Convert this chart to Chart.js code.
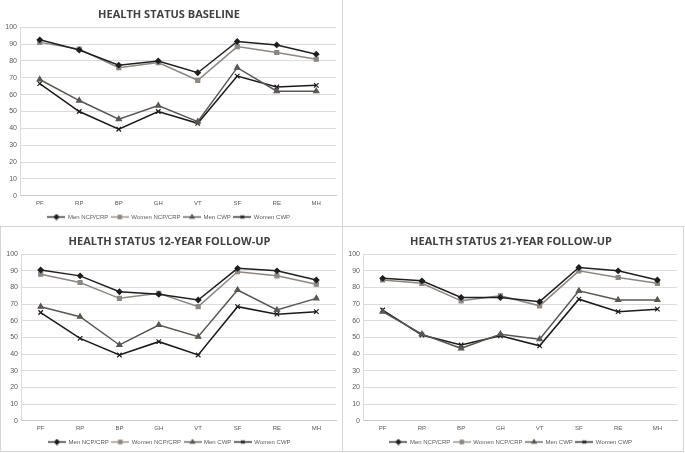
<!DOCTYPE html>
<html>
<head>
<meta charset="utf-8">
<script src="https://cdn.jsdelivr.net/npm/chart.js@4"></script>
<style>
  body { margin: 0; background: #fff; width: 685px; height: 453px; overflow: hidden; position: relative; }
  .box { position: absolute; box-sizing: border-box; border: 1px solid #d4d4d4; background: #fff; }
  canvas { display: block; }
</style>
</head>
<body>
<div class="box" style="left:-1px;top:-1px;width:344px;height:228px"><canvas id="baseChart" width="342" height="226"></canvas></div>
<div class="box" style="left:0;top:226px;width:343px;height:226px"><canvas id="year12Chart" width="341" height="224"></canvas></div>
<div class="box" style="left:342px;top:226px;width:342px;height:226px"><canvas id="year21Chart" width="340" height="224"></canvas></div>

<script>
  const categories = ['PF', 'RP', 'BP', 'GH', 'VT', 'SF', 'RE', 'MH'];
  const seriesNames = ['Men NCP/CRP', 'Women NCP/CRP', 'Men CWP', 'Women CWP'];

  // baseline
  const baseMenNcp   = [92.5, 86.5, 77.5, 80, 73, 91.5, 89.5, 84];
  const baseWomenNcp = [91, 87, 76, 79, 68.5, 88.5, 85, 81];
  const baseMenCwp   = [69, 56.5, 45.5, 53.5, 44, 76, 62, 62];
  const baseWomenCwp = [66.5, 50, 39.5, 50, 43, 71, 64.5, 65.5];

  // 12-year follow-up
  const y12MenNcp   = [90.5, 87, 77.5, 76, 72.5, 91.5, 90, 84.5];
  const y12WomenNcp = [88, 83, 73.5, 76.5, 68.5, 89.5, 87, 82];
  const y12MenCwp   = [68.5, 62.5, 45.5, 57.5, 50.5, 78.5, 66.5, 73.5];
  const y12WomenCwp = [65, 49.5, 39.5, 47.5, 39.5, 68.5, 64, 65.5];

  // 21-year follow-up
  const y21MenNcp   = [85.5, 84, 74, 74, 71.5, 92, 90, 84.5];
  const y21WomenNcp = [84.5, 82.5, 72, 75, 69, 90, 86, 82.5];
  const y21MenCwp   = [65.5, 52, 43.5, 52, 49, 78, 72.5, 72.5];
  const y21WomenCwp = [66.5, 51.5, 45.5, 51, 45, 73, 65.5, 67];

  const colors = ['#1f1f1f', '#8c8782', '#5a5652', '#1a1a1a'];
  const markers = ['rectRot', 'rect', 'triangle', 'crossRot'];
  const radii = [2.6, 2.8, 3, 3.2];

  // little line+marker images for the legend
  function legendIcon(i) {
    const c = document.createElement('canvas');
    c.width = 18; c.height = 7;
    const ctx = c.getContext('2d');
    ctx.strokeStyle = colors[i];
    ctx.fillStyle = colors[i];
    ctx.lineWidth = 1.3;
    ctx.beginPath(); ctx.moveTo(0, 3.5); ctx.lineTo(18, 3.5); ctx.stroke();
    Chart.helpers.drawPoint(ctx, { pointStyle: markers[i], radius: 2.3, borderWidth: 1.1 }, 9, 3.5);
    return c;
  }

  function makeChart(id, title, rows) {
    const datasets = rows.map((vals, i) => ({
      label: seriesNames[i],
      data: vals,
      borderColor: colors[i],
      backgroundColor: colors[i],
      borderWidth: 1.5,
      pointStyle: markers[i],
      pointRadius: radii[i],
      pointBorderWidth: 1.2,
      tension: 0
    }));
    return new Chart(document.getElementById(id), {
      type: 'line',
      data: { labels: categories, datasets: datasets },
      options: {
        responsive: false,
        animation: false,
        layout: { padding: { left: 2, right: 6, bottom: -4 } },
        plugins: {
          title: {
            display: true,
            text: title,
            color: '#404040',
            font: { family: 'Open Sans', size: 11, weight: 'bold' },
            padding: { top: 8, bottom: 6 }
          },
          legend: {
            position: 'bottom',
            labels: {
              usePointStyle: true,
              pointStyleWidth: 17,
              generateLabels: chart => chart.data.datasets.map((ds, i) => ({
                text: ds.label,
                pointStyle: legendIcon(i),
                fontColor: '#595959',
                datasetIndex: i,
                lineWidth: 0
              })),
              font: { family: 'Liberation Sans', size: 6 },
              color: '#595959',
              padding: 3,
              boxHeight: 6
            }
          },
          tooltip: { enabled: false }
        },
        scales: {
          x: {
            offset: true,
            grid: { display: false, drawTicks: false },
            border: { color: '#c8c8c8' },
            ticks: { color: '#595959', font: { family: 'Liberation Sans', size: 6 }, padding: 4 }
          },
          y: {
            min: 0,
            max: 100,
            afterFit: s => { s.width = 18; },
            ticks: { stepSize: 10, color: '#595959', font: { family: 'Liberation Sans', size: 7 }, padding: 3 },
            grid: { color: '#dcdcdc', drawTicks: false },
            border: { color: '#dcdcdc' }
          }
        }
      }
    });
  }

  makeChart('baseChart', 'HEALTH STATUS BASELINE', [baseMenNcp, baseWomenNcp, baseMenCwp, baseWomenCwp]);
  makeChart('year12Chart', 'HEALTH STATUS 12-YEAR FOLLOW-UP', [y12MenNcp, y12WomenNcp, y12MenCwp, y12WomenCwp]);
  makeChart('year21Chart', 'HEALTH STATUS 21-YEAR FOLLOW-UP', [y21MenNcp, y21WomenNcp, y21MenCwp, y21WomenCwp]);
</script>
</body>
</html>
